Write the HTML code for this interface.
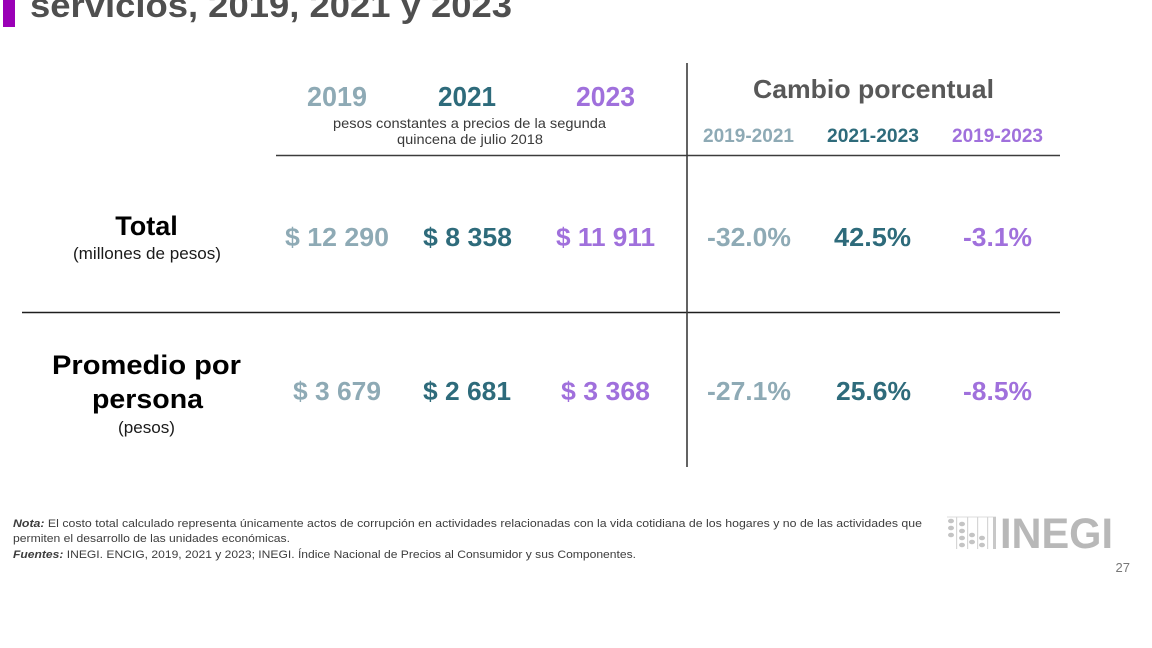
<!DOCTYPE html>
<html><head><meta charset="utf-8"><style>
html,body{margin:0;padding:0;background:#fff;}
svg{display:block;}
.n{font-family:"Liberation Sans Narrow","Liberation Sans",sans-serif;}
.s{font-family:"Liberation Sans",sans-serif;}
</style></head><body>
<svg width="1152" height="648" viewBox="0 0 1152 648" xmlns="http://www.w3.org/2000/svg">
<rect width="1152" height="648" fill="#fff"/>
<!-- title -->
<rect x="3" y="0" width="12" height="27" fill="#9a00b6"/>
<text x="30" y="17" class="s" font-size="34" font-weight="bold" fill="#4f4f4f" textLength="482" lengthAdjust="spacingAndGlyphs">servicios, 2019, 2021 y 2023</text>

<!-- header -->
<text x="307" y="106" class="n" font-size="28" font-weight="bold" fill="#8eaab5" textLength="60" lengthAdjust="spacingAndGlyphs">2019</text>
<text x="438" y="106" class="n" font-size="28" font-weight="bold" fill="#2e6b7b" textLength="58" lengthAdjust="spacingAndGlyphs">2021</text>
<text x="576" y="106" class="n" font-size="28" font-weight="bold" fill="#a070dc" textLength="59" lengthAdjust="spacingAndGlyphs">2023</text>
<text x="333" y="128" class="n" font-size="14" fill="#3a3a3a" textLength="273" lengthAdjust="spacingAndGlyphs">pesos constantes a precios de la segunda</text>
<text x="397" y="144" class="n" font-size="14" fill="#3a3a3a" textLength="146" lengthAdjust="spacingAndGlyphs">quincena de julio 2018</text>

<text x="753" y="98" class="n" font-size="26" font-weight="bold" fill="#585858" textLength="241" lengthAdjust="spacingAndGlyphs">Cambio porcentual</text>
<text x="703" y="142" class="n" font-size="19" font-weight="bold" fill="#8eaab5" textLength="91" lengthAdjust="spacingAndGlyphs">2019-2021</text>
<text x="827" y="142" class="n" font-size="19" font-weight="bold" fill="#2e6b7b" textLength="92" lengthAdjust="spacingAndGlyphs">2021-2023</text>
<text x="952" y="142" class="n" font-size="19" font-weight="bold" fill="#a070dc" textLength="91" lengthAdjust="spacingAndGlyphs">2019-2023</text>

<!-- lines -->
<line x1="276" y1="155.5" x2="1060" y2="155.5" stroke="#3c3c3c" stroke-width="1.6"/>
<line x1="22" y1="312.5" x2="1060" y2="312.5" stroke="#1e1e1e" stroke-width="1.6"/>
<line x1="687" y1="63" x2="687" y2="467" stroke="#3c3c3c" stroke-width="1.6"/>

<!-- row 1 -->
<text x="146.5" y="235" class="s" font-size="27" font-weight="bold" fill="#000" text-anchor="middle">Total</text>
<text x="73" y="259" class="n" font-size="17" fill="#1a1a1a" textLength="148" lengthAdjust="spacingAndGlyphs">(millones de pesos)</text>

<text x="285" y="246" class="s" font-size="26" font-weight="bold" fill="#8eaab5" textLength="104" lengthAdjust="spacingAndGlyphs">$ 12 290</text>
<text x="423" y="246" class="s" font-size="26" font-weight="bold" fill="#2e6b7b" textLength="89" lengthAdjust="spacingAndGlyphs">$ 8 358</text>
<text x="556" y="246" class="s" font-size="26" font-weight="bold" fill="#a070dc" textLength="99" lengthAdjust="spacingAndGlyphs">$ 11 911</text>

<text x="707" y="246" class="s" font-size="26" font-weight="bold" fill="#8eaab5" textLength="84" lengthAdjust="spacingAndGlyphs">-32.0%</text>
<text x="834" y="246" class="s" font-size="26" font-weight="bold" fill="#2e6b7b" textLength="77" lengthAdjust="spacingAndGlyphs">42.5%</text>
<text x="963" y="246" class="s" font-size="26" font-weight="bold" fill="#a070dc" textLength="69" lengthAdjust="spacingAndGlyphs">-3.1%</text>

<!-- row 2 -->
<text x="52" y="374" class="s" font-size="27" font-weight="bold" fill="#000" textLength="189" lengthAdjust="spacingAndGlyphs">Promedio por</text>
<text x="92" y="408" class="s" font-size="27" font-weight="bold" fill="#000" textLength="111" lengthAdjust="spacingAndGlyphs">persona</text>
<text x="118" y="433" class="n" font-size="17" fill="#1a1a1a" textLength="57" lengthAdjust="spacingAndGlyphs">(pesos)</text>

<text x="293" y="400" class="s" font-size="26" font-weight="bold" fill="#8eaab5" textLength="88" lengthAdjust="spacingAndGlyphs">$ 3 679</text>
<text x="423" y="400" class="s" font-size="26" font-weight="bold" fill="#2e6b7b" textLength="88" lengthAdjust="spacingAndGlyphs">$ 2 681</text>
<text x="561" y="400" class="s" font-size="26" font-weight="bold" fill="#a070dc" textLength="89" lengthAdjust="spacingAndGlyphs">$ 3 368</text>

<text x="707" y="400" class="s" font-size="26" font-weight="bold" fill="#8eaab5" textLength="84" lengthAdjust="spacingAndGlyphs">-27.1%</text>
<text x="836" y="400" class="s" font-size="26" font-weight="bold" fill="#2e6b7b" textLength="75" lengthAdjust="spacingAndGlyphs">25.6%</text>
<text x="963" y="400" class="s" font-size="26" font-weight="bold" fill="#a070dc" textLength="69" lengthAdjust="spacingAndGlyphs">-8.5%</text>

<!-- footnote -->
<text x="13" y="527" class="n" font-size="11" fill="#3d3d3d" textLength="909" lengthAdjust="spacingAndGlyphs"><tspan font-weight="bold" font-style="italic">Nota:</tspan> El costo total calculado representa únicamente actos de corrupción en actividades relacionadas con la vida cotidiana de los hogares y no de las actividades que</text>
<text x="13" y="542" class="n" font-size="11" fill="#3d3d3d" textLength="277" lengthAdjust="spacingAndGlyphs">permiten el desarrollo de las unidades económicas.</text>
<text x="13" y="558" class="n" font-size="11" fill="#3d3d3d" textLength="623" lengthAdjust="spacingAndGlyphs"><tspan font-weight="bold" font-style="italic">Fuentes:</tspan> INEGI. ENCIG, 2019, 2021 y 2023; INEGI. Índice Nacional de Precios al Consumidor y sus Componentes.</text>

<!-- logo -->
<g fill="#c4c4c4">
  <line x1="947" y1="517" x2="996" y2="517" stroke="#dcdcdc" stroke-width="1"/>
  <ellipse cx="951" cy="521" rx="3" ry="2.3"/>
  <ellipse cx="951" cy="528" rx="3" ry="2.3"/>
  <ellipse cx="951" cy="535" rx="3" ry="2.3"/>
  <ellipse cx="962" cy="524" rx="3" ry="2.3"/>
  <ellipse cx="962" cy="531" rx="3" ry="2.3"/>
  <ellipse cx="962" cy="538" rx="3" ry="2.3"/>
  <ellipse cx="962" cy="545" rx="3" ry="2.3"/>
  <ellipse cx="972" cy="535" rx="3" ry="2.3"/>
  <ellipse cx="972" cy="542" rx="3" ry="2.3"/>
  <ellipse cx="982" cy="538" rx="3" ry="2.3"/>
  <ellipse cx="982" cy="545" rx="3" ry="2.3"/>
  <rect x="956" y="517" width="1.2" height="32" fill="#d6d6d6"/>
  <rect x="967" y="517" width="1.2" height="32" fill="#d6d6d6"/>
  <rect x="977" y="517" width="1.2" height="32" fill="#d6d6d6"/>
  <rect x="987" y="517" width="1.2" height="32" fill="#d6d6d6"/>
  <rect x="993" y="517" width="3" height="32" fill="#c8c8c8"/>
</g>
<text x="1000" y="548" class="s" font-size="43" font-weight="bold" fill="#b8b8b8" textLength="113" lengthAdjust="spacingAndGlyphs">INEGI</text>
<text x="1130" y="572" class="s" font-size="13" fill="#777" text-anchor="end">27</text>
</svg>
</body></html>
